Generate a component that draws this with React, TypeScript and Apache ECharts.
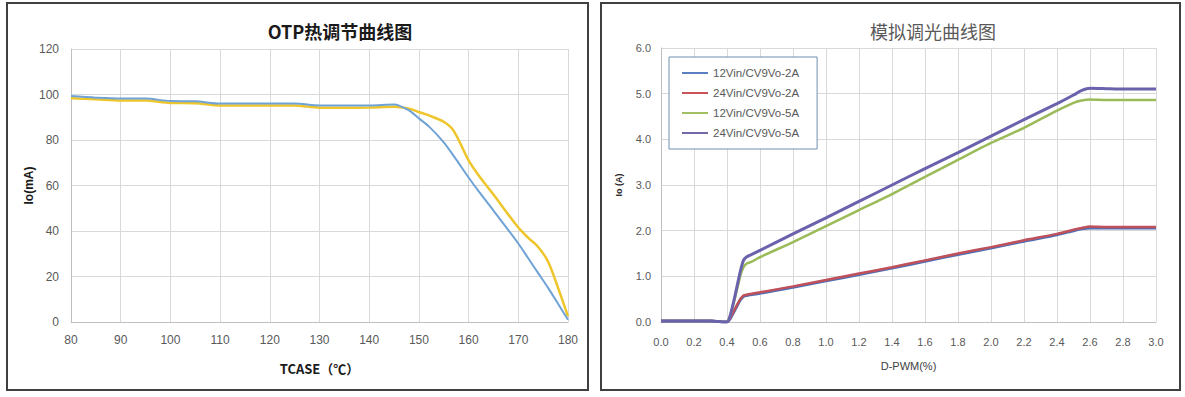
import React, { useEffect, useRef } from "react";
import * as echarts from "echarts";

// ---- OTP chart data ----
const otpTemps = [80, 85, 90, 95, 100, 105, 110, 115, 120, 125, 130, 135, 140, 145, 148, 150, 152, 155, 157, 160, 162, 165, 170, 172, 174, 176, 178, 180];
const otpBlue = [99.3, 98.6, 98.2, 98.2, 97.1, 97.0, 96.0, 96.0, 96.0, 96.0, 95.2, 95.2, 95.2, 95.6, 93.0, 89.5, 86.0, 79.0, 73.0, 63.5, 57.5, 49.0, 34.5, 28.0, 21.5, 15.0, 8.0, 1.0];
const otpYellow = [98.3, 97.9, 97.4, 97.4, 96.3, 96.2, 95.2, 95.2, 95.2, 95.2, 94.2, 94.2, 94.3, 94.6, 93.8, 92.3, 90.8, 88.0, 84.0, 71.0, 64.5, 56.0, 41.5, 37.0, 33.0, 26.5, 15.0, 2.5];
const otpXTicks = [80, 180, 10];
const otpYTicks = [0, 120, 20];

// ---- Dimming chart data ----
const pwm = [0, 0.1, 0.2, 0.3, 0.35, 0.4, 0.42, 0.45, 0.48, 0.5, 0.52, 0.55, 0.6, 0.8, 1.0, 1.2, 1.4, 1.6, 1.8, 2.0, 2.2, 2.4, 2.5, 2.55, 2.6, 2.7, 2.8, 3.0];
const blue2A = [0.02, 0.02, 0.02, 0.02, 0.01, 0.0, 0.08, 0.28, 0.48, 0.56, 0.58, 0.6, 0.63, 0.76, 0.9, 1.04, 1.18, 1.33, 1.48, 1.62, 1.77, 1.91, 2.0, 2.04, 2.06, 2.06, 2.06, 2.06];
const red2A = [0.02, 0.02, 0.02, 0.02, 0.01, 0.0, 0.1, 0.3, 0.5, 0.58, 0.6, 0.62, 0.65, 0.78, 0.92, 1.06, 1.2, 1.35, 1.5, 1.64, 1.79, 1.93, 2.02, 2.06, 2.09, 2.08, 2.08, 2.08];
const green5A = [0.02, 0.02, 0.02, 0.02, 0.01, 0.0, 0.15, 0.55, 1.0, 1.2, 1.28, 1.32, 1.42, 1.75, 2.1, 2.45, 2.8, 3.18, 3.55, 3.92, 4.25, 4.63, 4.8, 4.85, 4.87, 4.86, 4.86, 4.86];
const purple5A = [0.02, 0.02, 0.02, 0.02, 0.01, 0.0, 0.15, 0.6, 1.1, 1.35, 1.43, 1.48, 1.57, 1.93, 2.28, 2.64, 3.0, 3.36, 3.71, 4.07, 4.43, 4.78, 4.97, 5.07, 5.12, 5.11, 5.1, 5.1];
const dimNames = ["12Vin/CV9Vo-2A", "24Vin/CV9Vo-2A", "12Vin/CV9Vo-5A", "24Vin/CV9Vo-5A"];
const dimXTicks = [0, 3, 0.2];
const dimYTicks = [0, 6, 1];

const pairs = (xs: number[], ys: number[]) => xs.map((x, i) => [x, ys[i]]);

export default function App() {
  const ref = useRef<HTMLDivElement>(null);
  useEffect(() => {
    document.body.style.margin = "0";
    const chart = echarts.init(ref.current!, null, { renderer: "svg" });
    const labelStyle = { color: "#595959", fontSize: 12, fontFamily: "Liberation Sans, Arial, sans-serif" };
    const gridLine = { show: true, lineStyle: { color: "#D9D9D9", width: 1 } };
    chart.setOption({
      animation: false,
      backgroundColor: "#fff",
      title: [
        {
          text: "OTP热调节曲线图",
          left: 335,
          top: 17,
          textAlign: "center",
          textStyle: { fontSize: 18, fontWeight: "bold", color: "#1a1a1a", fontFamily: "Noto Sans CJK SC, sans-serif" },
        },
        {
          text: "模拟调光曲线图",
          left: 928,
          top: 17,
          textAlign: "center",
          textStyle: { fontSize: 18, fontWeight: "normal", color: "#595959", fontFamily: "Noto Sans CJK SC, sans-serif" },
        },
      ],
      graphic: [
        { type: "rect", shape: { x: 7, y: 3, width: 581, height: 387 }, style: { fill: "none", stroke: "#404040", lineWidth: 2 } },
        { type: "rect", shape: { x: 601, y: 3, width: 579, height: 387 }, style: { fill: "none", stroke: "#404040", lineWidth: 2 } },
      ],
      legend: {
        orient: "vertical",
        left: 669,
        top: 57,
        width: 144,
        data: dimNames,
        icon: "rect",
        itemWidth: 26,
        itemHeight: 2,
        itemGap: 8,
        padding: [10, 18, 10, 13],
        borderColor: "#6F8FAF",
        borderWidth: 1,
        backgroundColor: "#fff",
        textStyle: { color: "#595959", fontSize: 11.5, fontFamily: "Liberation Sans, Arial, sans-serif" },
      },
      grid: [
        { left: 71, top: 49, width: 497, height: 273 },
        { left: 661, top: 48, width: 495, height: 274 },
      ],
      xAxis: [
        {
          gridIndex: 0,
          type: "value",
          min: otpXTicks[0],
          max: otpXTicks[1],
          interval: otpXTicks[2],
          name: "TCASE（℃）",
          nameLocation: "middle",
          nameGap: 40,
          nameTextStyle: { fontSize: 13, fontWeight: "bold", color: "#1a1a1a", fontFamily: "Noto Sans CJK SC, sans-serif" },
          axisLine: { lineStyle: { color: "#BFBFBF" } },
          axisTick: { show: false },
          axisLabel: { ...labelStyle, margin: 12 },
          splitLine: gridLine,
        },
        {
          gridIndex: 1,
          type: "value",
          min: dimXTicks[0],
          max: dimXTicks[1],
          interval: dimXTicks[2],
          name: "D-PWM(%)",
          nameLocation: "middle",
          nameGap: 38,
          nameTextStyle: { fontSize: 11, color: "#404040", fontFamily: "Liberation Sans, Arial, sans-serif" },
          axisLine: { lineStyle: { color: "#BFBFBF" } },
          axisTick: { show: false },
          axisLabel: { ...labelStyle, fontSize: 11, margin: 14, formatter: (v: number) => v.toFixed(1) },
          splitLine: gridLine,
        },
      ],
      yAxis: [
        {
          gridIndex: 0,
          type: "value",
          min: otpYTicks[0],
          max: otpYTicks[1],
          interval: otpYTicks[2],
          name: "Io(mA)",
          nameLocation: "middle",
          nameGap: 35,
          nameTextStyle: { fontSize: 12, fontWeight: "bold", color: "#1a1a1a", fontFamily: "Liberation Sans, Arial, sans-serif" },
          axisLine: { show: true, lineStyle: { color: "#BFBFBF" } },
          axisTick: { show: false },
          axisLabel: { ...labelStyle, margin: 12 },
          splitLine: gridLine,
        },
        {
          gridIndex: 1,
          type: "value",
          min: dimYTicks[0],
          max: dimYTicks[1],
          interval: dimYTicks[2],
          name: "Io (A)",
          nameLocation: "middle",
          nameGap: 38,
          nameTextStyle: { fontSize: 9, fontWeight: "bold", color: "#262626", fontFamily: "Liberation Sans, Arial, sans-serif" },
          axisLine: { show: true, lineStyle: { color: "#BFBFBF" } },
          axisTick: { show: false },
          axisLabel: { ...labelStyle, fontSize: 11, margin: 10, formatter: (v: number) => v.toFixed(1) },
          splitLine: gridLine,
        },
      ],
      series: [
        {
          type: "line",
          xAxisIndex: 0,
          yAxisIndex: 0,
          data: pairs(otpTemps, otpYellow),
          smooth: 0.3,
          showSymbol: false,
          lineStyle: { color: "#EEC52A", width: 2.5 },
          itemStyle: { color: "#EEC52A" },
        },
        {
          type: "line",
          xAxisIndex: 0,
          yAxisIndex: 0,
          data: pairs(otpTemps, otpBlue),
          smooth: 0.3,
          showSymbol: false,
          lineStyle: { color: "#6FA3D6", width: 2 },
          itemStyle: { color: "#6FA3D6" },
        },
        {
          name: dimNames[0],
          type: "line",
          xAxisIndex: 1,
          yAxisIndex: 1,
          data: pairs(pwm, blue2A),
          smooth: 0.2,
          showSymbol: false,
          lineStyle: { color: "#4F6FB5", width: 3 },
          itemStyle: { color: "#5B7FC0" },
        },
        {
          name: dimNames[1],
          type: "line",
          xAxisIndex: 1,
          yAxisIndex: 1,
          data: pairs(pwm, red2A),
          smooth: 0.2,
          showSymbol: false,
          lineStyle: { color: "#C0505A", width: 2.5 },
          itemStyle: { color: "#C9535B" },
        },
        {
          name: dimNames[2],
          type: "line",
          xAxisIndex: 1,
          yAxisIndex: 1,
          data: pairs(pwm, green5A),
          smooth: 0.2,
          showSymbol: false,
          lineStyle: { color: "#9BBB59", width: 2.5 },
          itemStyle: { color: "#A2C061" },
        },
        {
          name: dimNames[3],
          type: "line",
          xAxisIndex: 1,
          yAxisIndex: 1,
          data: pairs(pwm, purple5A),
          smooth: 0.2,
          showSymbol: false,
          lineStyle: { color: "#6A62AC", width: 3 },
          itemStyle: { color: "#7468A8" },
        },
      ],
    });
    return () => chart.dispose();
  }, []);
  return <div ref={ref} style={{ width: 1185, height: 397 }} />;
}
